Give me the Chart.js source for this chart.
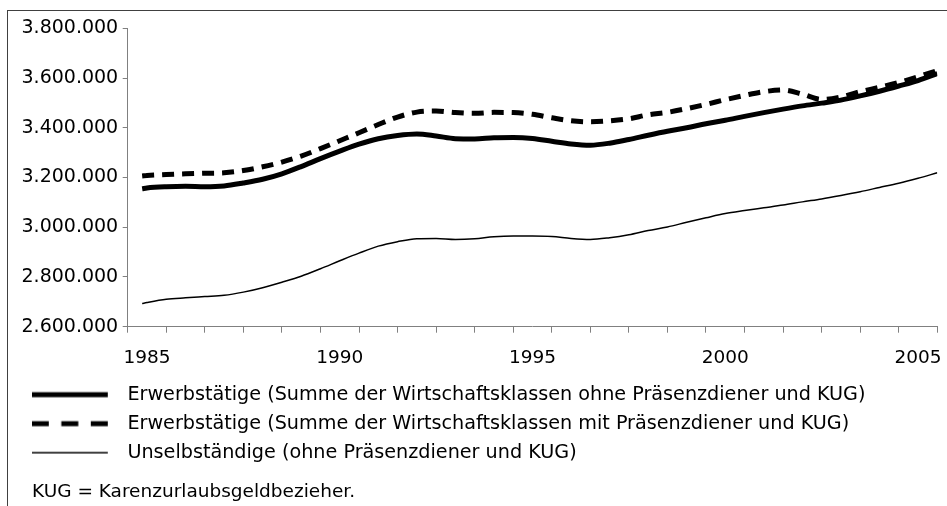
<!DOCTYPE html>
<html>
<head>
<meta charset="utf-8">
<script src="https://cdn.jsdelivr.net/npm/chart.js@4.4.1/dist/chart.umd.min.js"></script>
<style>
  html, body { margin: 0; padding: 0; background: #fff; }
  #wrap { position: absolute; left: 0; top: 0; width: 947px; height: 506px; }
  #frame { position: absolute; left: 7px; top: 10px; width: 940px; height: 496px;
           border-left: 1px solid #404040; border-top: 1px solid #404040; box-sizing: border-box; }
  canvas { position: absolute; left: 0; top: 0; }
</style>
</head>
<body>
<div id="wrap">
  <div id="frame"></div>
  <canvas id="c" width="947" height="506"></canvas>
</div>
<script>
// ---- data (values in thousands) ----
const years = [1984.875, 1985, 1985.5, 1986, 1986.5, 1987, 1987.5, 1988, 1988.5, 1989, 1989.5,
  1990, 1990.5, 1991, 1991.5, 1992, 1992.5, 1993, 1993.5, 1994, 1994.5,
  1995, 1995.5, 1996, 1996.5, 1997, 1997.5, 1998, 1998.5, 1999, 1999.5,
  2000, 2000.5, 2001, 2001.5, 2002, 2002.5, 2003, 2003.5, 2004, 2004.5, 2005, 2005.5];

const erwOhne = [3155, 3158, 3163, 3165, 3163, 3166, 3178, 3193, 3215, 3244, 3276,
  3306, 3334, 3356, 3369, 3375, 3367, 3356, 3355, 3360, 3361,
  3357, 3346, 3335, 3330, 3338, 3353, 3370, 3386, 3400, 3416,
  3430, 3446, 3461, 3475, 3488, 3499, 3511, 3528, 3547, 3568, 3590, 3618];

const erwMit = [3206, 3208, 3212, 3215, 3217, 3219, 3228, 3243, 3262, 3286, 3316,
  3348, 3380, 3413, 3443, 3463, 3467, 3461, 3458, 3462, 3461,
  3454, 3440, 3428, 3424, 3428, 3436, 3452, 3462, 3477, 3494,
  3513, 3530, 3545, 3552, 3535, 3514, 3524, 3545, 3563, 3582, 3605, 3630];

const unselb = [2693, 2697, 2710, 2716, 2721, 2726, 2739, 2757, 2779, 2803, 2833,
  2865, 2896, 2924, 2942, 2954, 2955, 2951, 2954, 2962, 2965,
  2965, 2963, 2955, 2951, 2958, 2970, 2987, 3001, 3020, 3038,
  3055, 3067, 3078, 3089, 3102, 3114, 3128, 3143, 3160, 3177, 3197, 3219];

const seriesLabels = [
  'Erwerbstätige (Summe der Wirtschaftsklassen ohne Präsenzdiener und KUG)',
  'Erwerbstätige (Summe der Wirtschaftsklassen mit Präsenzdiener und KUG)',
  'Unselbständige (ohne Präsenzdiener und KUG)'
];
const footnote = 'KUG = Karenzurlaubsgeldbezieher.';

const categoryYears = [1985, 1986, 1987, 1988, 1989, 1990, 1991, 1992, 1993, 1994, 1995,
  1996, 1997, 1998, 1999, 2000, 2001, 2002, 2003, 2004, 2005];
const labeledYears = [1985, 1990, 1995, 2000, 2005];
const yTicks = [2600000, 2800000, 3000000, 3200000, 3400000, 3600000, 3800000];

// ---- chart ----
const FONT = 'DejaVu Sans';
Chart.defaults.font.family = FONT;
Chart.defaults.color = '#000';

const fmt = v => String(Math.round(v)).replace(/\B(?=(\d{3})+(?!\d))/g, '.');
const toPts = arr => years.map((x, i) => ({ x: x, y: arr[i] * 1000 }));

// widest y label, so mirrored labels can be placed right-aligned left of the axis
const Y_FONT = 19;
const mctx = document.createElement('canvas').getContext('2d');
mctx.font = Y_FONT + 'px "' + FONT + '"';
const widestY = Math.max.apply(null, yTicks.map(v => mctx.measureText(fmt(v)).width));

const styles = [
  { width: 5, dash: [], legendDash: [] },
  { width: 5, dash: [12, 8], legendDash: [17, 12.5] },
  { width: 1.5, dash: [], legendDash: [] }
];

function legendSample(st) {
  const c = document.createElement('canvas');
  c.width = 96; c.height = 10;
  const g = c.getContext('2d');
  g.strokeStyle = '#000';
  g.lineWidth = st.width;
  g.setLineDash(st.legendDash);
  g.beginPath();
  g.moveTo(0, 5); g.lineTo(76, 5);
  g.stroke();
  return c;
}
const samples = styles.map(legendSample);

const seriesData = [erwOhne, erwMit, unselb];
const datasets = seriesData.map((arr, i) => ({
  label: seriesLabels[i],
  data: toPts(arr),
  borderColor: '#000',
  backgroundColor: '#000',
  borderWidth: styles[i].width,
  borderDash: styles[i].dash,
  pointRadius: 0,
  cubicInterpolationMode: 'monotone',
  fill: false
}));

new Chart(document.getElementById('c'), {
  type: 'line',
  data: { datasets: datasets },
  options: {
    responsive: false,
    animation: false,
    events: [],
    layout: { padding: { left: 32, top: 28.3, right: 9.7, bottom: 0 } },
    scales: {
      x: {
        type: 'linear',
        min: 1984.5,
        max: 2005.5,
        afterBuildTicks: s => { s.ticks = categoryYears.map(v => ({ value: v })); },
        afterFit: s => { s.height = 48.55; },
        ticks: {
          autoSkip: false,
          maxRotation: 0,
          padding: 3,
          font: { size: 18.5, lineHeight: 2.45 },
          color: '#000',
          callback: v => labeledYears.includes(v) ? String(v) : ''
        },
        grid: { offset: true, drawOnChartArea: false, drawTicks: true, tickLength: 6, color: '#808080' },
        border: { color: '#808080', width: 1 }
      },
      y: {
        min: 2600000,
        max: 3800000,
        afterBuildTicks: s => { s.ticks = yTicks.map(v => ({ value: v })); },
        afterFit: s => { s.width = 127.7 - 32; },
        ticks: {
          mirror: true,
          crossAlign: 'far',
          padding: -(widestY + 9.5),
          font: { size: Y_FONT },
          color: '#000',
          callback: v => fmt(v)
        },
        grid: { drawOnChartArea: false, drawTicks: true, tickLength: 5, color: '#808080' },
        border: { color: '#808080', width: 1 }
      }
    },
    plugins: {
      legend: {
        position: 'bottom',
        align: 'start',
        labels: {
          usePointStyle: true,
          pointStyleWidth: 76,
          padding: 9.8,
          color: '#000',
          font: { size: 19.2 },
          generateLabels: chart => {
            const items = Chart.defaults.plugins.legend.labels.generateLabels(chart);
            items.forEach((it, i) => { it.pointStyle = samples[i]; });
            return items;
          }
        }
      },
      title: {
        display: true,
        text: footnote,
        position: 'bottom',
        align: 'start',
        color: '#000',
        font: { size: 18.5, weight: 'normal' },
        padding: { top: 8.65, bottom: 2.9 }
      },
      tooltip: { enabled: false }
    }
  }
});
</script>
</body>
</html>
